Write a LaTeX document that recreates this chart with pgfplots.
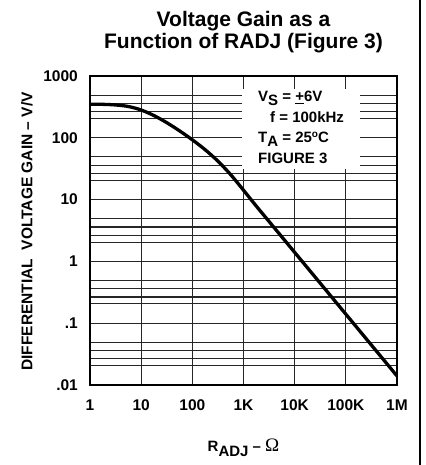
\documentclass[border=0pt]{standalone}
\usepackage{pgfplots}
\pgfplotsset{compat=1.18}
\usepackage{fontspec}
\setmainfont{Liberation Sans}
\newfontfamily\seriffont{Liberation Serif}
\begin{document}
\begin{tikzpicture}[x=1pt,y=1pt]
\begin{axis}[
  at={(0,0)}, anchor=south west,
  scale only axis, width=307pt, height=309pt,
  xmode=log, ymode=log,
  xmin=1, xmax=1000000, ymin=0.01, ymax=1000,
  xtick={1,10,100,1000,10000,100000,1000000},
  xticklabels={1,10,100,1K,10K,100K,1M},
  ytick={0.01,0.1,1,10,100,1000},
  yticklabels={.01,.1,1,10,100,1000},
  minor ytick={0.0205,0.0265,0.036,0.049,0.205,0.265,0.36,0.49,2.05,2.65,3.6,4.9,20.5,26.5,36,49,205,265,360,490},
  xmajorgrids, ymajorgrids, yminorgrids,
  major grid style={black!85, line width=1.1pt},
  minor grid style={black!85, line width=1.1pt},
  axis line style={line width=2.2pt},
  major tick length=0pt, minor tick length=0pt,
  tick style={draw=none},
  ticklabel style={font=\bfseries\fontsize{15.5}{16}\selectfont, inner sep=0pt},
  xticklabel style={anchor=base, yshift=-25pt},
  yticklabel style={anchor=east, xshift=-12pt},
  /pgf/number format/assume math mode=true,
]
\addplot[black, line width=3.3pt, smooth] coordinates {
 (1,349.9) (1.778,347.9) (3.162,340.1) (5.623,321.0) (10,281.8) (17.78,229.1)
 (31.62,175.8) (56.23,129.6) (100,92.8) (177.8,64.2) (316.2,41.9) (562.3,25.3)
 (1000,14.2) (1778,7.85) (3162,4.42) (10000,1.40) (100000,0.140) (1000000,0.0140)
};
\end{axis}
\fill[white] (152,216) rectangle (270,296);
\begin{scope}[every node/.style={anchor=base west, inner sep=0pt, font=\bfseries\fontsize{15}{15}\selectfont}]
\node at (168,283) {V\raisebox{-4pt}{S} = \underline{+}6V};
\node at (180,262.3) {f = 100kHz};
\node at (168,242.3) {T\raisebox{-4pt}{A} = 25\raisebox{5pt}{\fontsize{10}{10}\selectfont o}C};
\node at (168,221.7) {FIGURE 3};
\end{scope}
\node[anchor=base, inner sep=0pt, font=\bfseries\fontsize{21}{21}\selectfont] at (153.5,358.3) {Voltage Gain as a};
\node[anchor=base, inner sep=0pt, font=\bfseries\fontsize{21}{21}\selectfont] at (153.5,336.7) {Function of RADJ (Figure 3)};
\node[rotate=90, inner sep=0pt, font=\bfseries\fontsize{15.5}{15.5}\selectfont] at (-63,153.5) {DIFFERENTIAL\ \ VOLTAGE GAIN – V/V};
\node[anchor=base, inner sep=0pt, font=\bfseries\fontsize{15}{15}\selectfont] at (153.5,-66.7) {R\raisebox{-5pt}{ADJ} – {\seriffont\mdseries\fontsize{19}{19}\selectfont Ω}};
\draw[line width=2pt] (329.5,-80) -- (329.5,385);
\pgfresetboundingbox
\path (-90,-80) rectangle (335,385);
\end{tikzpicture}
\end{document}
